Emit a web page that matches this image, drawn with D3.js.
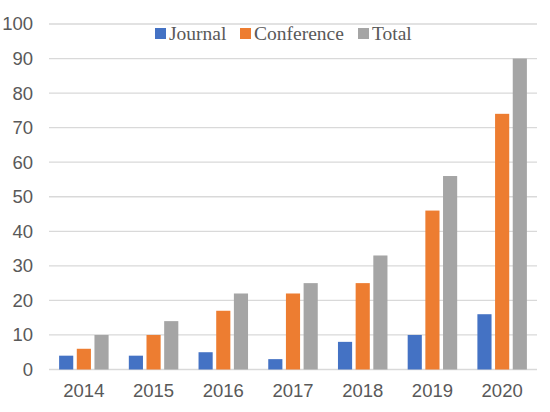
<!DOCTYPE html>
<html>
<head>
<meta charset="utf-8">
<script src="https://cdn.jsdelivr.net/npm/d3@7"></script>
<style>
  body { margin: 0; background: #fff; }
  svg { display: block; }
</style>
</head>
<body>
<div id="chart"></div>
<script>
var years = ["2014", "2015", "2016", "2017", "2018", "2019", "2020"];
var seriesNames = ["Journal", "Conference", "Total"];
var journal = [4, 4, 5, 3, 8, 10, 16];
var conference = [6, 10, 17, 22, 25, 46, 74];
var total = [10, 14, 22, 25, 33, 56, 90];
var colors = ["#4472c4", "#ed7d31", "#a5a5a5"];
var yTicks = [0, 10, 20, 30, 40, 50, 60, 70, 80, 90, 100];

var width = 550, height = 412,
    margin = {left: 49, right: 13, top: 24, bottom: 42.5};

var values = [journal, conference, total];
var data = years.map(function (yr, i) {
  return {year: yr, vals: values.map(function (v) { return v[i]; })};
});

var svg = d3.select("#chart").append("svg")
    .attr("width", width)
    .attr("height", height);

var x0 = d3.scaleBand()
    .domain(years)
    .range([margin.left, width - margin.right])
    .paddingInner(0.29)
    .paddingOuter(0.145);

var x1 = d3.scaleBand()
    .domain(d3.range(seriesNames.length))
    .range([0, x0.bandwidth()])
    .paddingInner(0.2);

var y = d3.scaleLinear()
    .domain([0, 100])
    .range([height - margin.bottom, margin.top]);

// gridlines
svg.append("g")
  .selectAll("line")
  .data(yTicks)
  .enter().append("line")
    .attr("x1", margin.left)
    .attr("x2", width - margin.right)
    .attr("y1", function (d) { return y(d); })
    .attr("y2", function (d) { return y(d); })
    .attr("stroke", "#d9d9d9")
    .attr("stroke-width", 1.3);

// y axis labels
var yAxis = d3.axisLeft(y).tickValues(yTicks).tickSize(0).tickPadding(16);
svg.append("g")
    .attr("transform", "translate(" + margin.left + ",0)")
    .call(yAxis)
    .call(function (g) { g.select(".domain").remove(); })
    .selectAll("text")
      .attr("fill", "#595959")
      .style("font-family", "'Liberation Sans', Arial, sans-serif")
      .style("font-size", "18.5px");

// bars
var groups = svg.append("g")
  .selectAll("g")
  .data(data)
  .enter().append("g")
    .attr("transform", function (d) { return "translate(" + x0(d.year) + ",0)"; });

groups.selectAll("rect")
  .data(function (d) { return d.vals; })
  .enter().append("rect")
    .attr("x", function (d, i) { return x1(i); })
    .attr("width", x1.bandwidth())
    .attr("y", function (d) { return y(d); })
    .attr("height", function (d) { return y(0) - y(d); })
    .attr("fill", function (d, i) { return colors[i]; });

// x axis
var xAxis = d3.axisBottom(x0).tickSize(0).tickPadding(14);
svg.append("g")
    .attr("transform", "translate(0," + y(0) + ")")
    .call(xAxis)
    .call(function (g) { g.select(".domain").remove(); })
    .selectAll("text")
      .attr("fill", "#595959")
      .style("font-family", "'Liberation Sans', Arial, sans-serif")
      .style("font-size", "18.5px");

// legend
var legendX = [155, 240, 358];
var legend = svg.append("g")
  .selectAll("g")
  .data(seriesNames)
  .enter().append("g")
    .attr("transform", function (d, i) { return "translate(" + legendX[i] + ",28)"; });

legend.append("rect")
    .attr("width", 11)
    .attr("height", 11)
    .attr("fill", function (d, i) { return colors[i]; });

legend.append("text")
    .attr("x", 14)
    .attr("y", 12)
    .attr("fill", "#595959")
    .style("font-family", "'Liberation Serif', 'Times New Roman', serif")
    .style("font-size", "19.5px")
    .text(function (d) { return d; });
</script>
</body>
</html>
